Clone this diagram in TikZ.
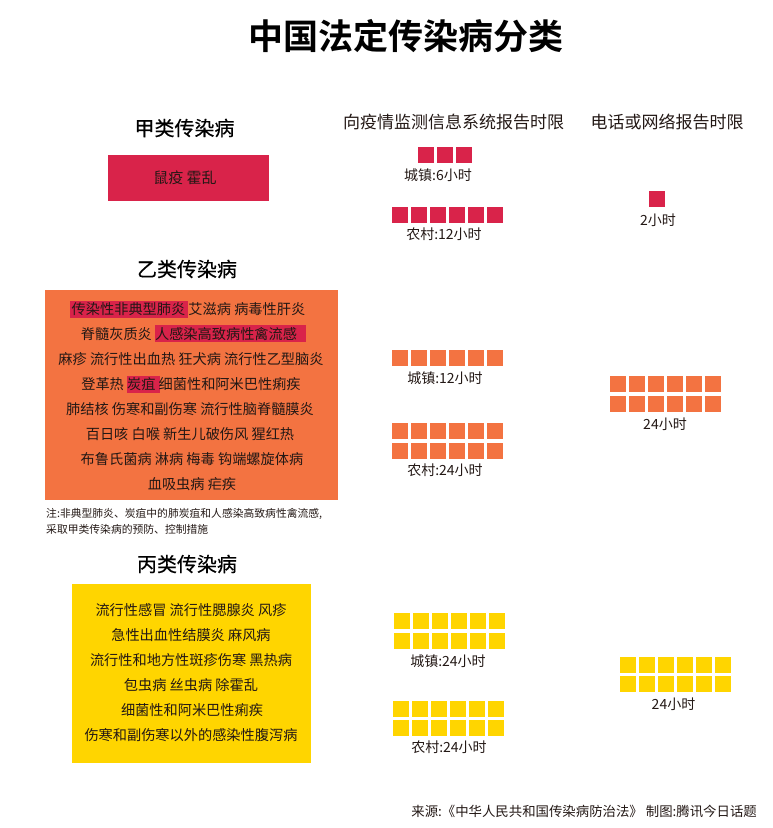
\documentclass[tikz,border=0pt]{standalone}
\usepackage{fontspec}
\setmainfont{Noto Sans CJK SC}[BoldFont=* Bold]
\newfontfamily\medfont{Noto Sans CJK SC}[FakeBold=0.35]
\definecolor{cred}{HTML}{D9234A}
\definecolor{corange}{HTML}{F37341}
\definecolor{cyellow}{HTML}{FFD500}
\definecolor{ctext}{HTML}{231815}
\newcommand{\fsz}[1]{\fontsize{#1}{#1}\selectfont}
\newcommand{\squares}[5]{% colour, x0, y0, columns, name
  \foreach \ci in {1,...,#4}{
    \node[unitsq,fill=#1] (#5-\ci) at ({#2+8+19*(\ci-1)},{#3+8}) {};
  }
}
\tikzset{
  unitsq/.style={minimum size=16pt,inner sep=0pt,outer sep=0pt},
  panel/.style={inner sep=0pt,outer sep=0pt,anchor=north west},
  hl/.style={inner sep=0pt,outer sep=0pt,anchor=north west,fill=cred},
  body/.style={inner sep=0pt,text=ctext,font=\fsz{14.2}},
  lab/.style={inner sep=0pt,text=ctext,font=\fsz{14}},
  head/.style={inner sep=0pt,text=ctext,font=\fsz{17}},
  sect/.style={inner sep=0pt,text=black,font=\medfont\fsz{20}},
}
\begin{document}
\begin{tikzpicture}[x=1pt,y=-1pt]
\useasboundingbox (0,0) rectangle (772,828);
\node[inner sep=0pt,font=\bfseries\fsz{35}] (title) at (405.5,36) {中国法定传染病分类};
\node[sect] (s1) at (184.5,128) {甲类传染病};
\node[sect] (s2) at (187,269) {乙类传染病};
\node[sect] (s3) at (187,564) {丙类传染病};
\node[head] (h1) at (453.5,122) {向疫情监测信息系统报告时限};
\node[head] (h2) at (667,122) {电话或网络报告时限};
% panels
\node[panel,fill=cred,minimum width=161pt,minimum height=46pt] (pa) at (108,155) {};
\node[panel,fill=corange,minimum width=293pt,minimum height=210pt] (pb) at (45,290) {};
\node[panel,fill=cyellow,minimum width=239pt,minimum height=179pt] (pc) at (72,584) {};
\node[body,font=\fsz{15}] (a1) at (185,178) {鼠疫 霍乱};
% highlights
\node[hl,minimum width=118pt,minimum height=17pt] (hl1) at (70,301) {};
\node[hl,minimum width=151pt,minimum height=17pt] (hl2) at (155,325) {};
\node[hl,minimum width=33pt,minimum height=17pt] (hl3) at (127,376) {};
% class B
\node[body] (b1) at (188.5,309) {传染性非典型肺炎 艾滋病 病毒性肝炎};
\node[body] (b2) at (189,334) {脊髓灰质炎 人感染高致病性禽流感};
\node[body] (b3) at (191,359) {麻疹 流行性出血热 狂犬病 流行性乙型脑炎};
\node[body] (b4) at (191,384) {登革热 炭疽 细菌性和阿米巴性痢疾};
\node[body] (b5) at (190,409) {肺结核 伤寒和副伤寒 流行性脑脊髓膜炎};
\node[body] (b6) at (190,434) {百日咳 白喉 新生儿破伤风 猩红热};
\node[body] (b7) at (192,459) {布鲁氏菌病 淋病 梅毒 钩端螺旋体病};
\node[body] (b8) at (192,484) {血吸虫病 疟疾};
\node[inner sep=0pt,anchor=west,text=ctext,font=\fsz{10.8}] (n1) at (46,514) {注:非典型肺炎、炭疽中的肺炭疽和人感染高致病性禽流感,};
\node[inner sep=0pt,anchor=west,text=ctext,font=\fsz{10.8}] (n2) at (46,529) {采取甲类传染病的预防、控制措施};
% class C
\node[body] (c1) at (191,610) {流行性感冒 流行性腮腺炎 风疹};
\node[body] (c2) at (191,635) {急性出血性结膜炎 麻风病};
\node[body] (c3) at (191,660) {流行性和地方性斑疹伤寒 黑热病};
\node[body] (c4) at (191,685) {包虫病 丝虫病 除霍乱};
\node[body] (c5) at (192,710) {细菌性和阿米巴性痢疾};
\node[body] (c6) at (191,735) {伤寒和副伤寒以外的感染性腹泻病};
% red squares
\squares{cred}{418}{147}{3}{ra}
\node[lab] (ra-l) at (438,175) {城镇:6小时};
\squares{cred}{392}{207}{6}{rb}
\node[lab] (rb-l) at (444,234) {农村:12小时};
\squares{cred}{649}{191}{1}{rc}
\node[lab] (rc-l) at (658,220) {2小时};
% orange squares
\squares{corange}{392}{350}{6}{oa}
\node[lab] (oa-l) at (445,378) {城镇:12小时};
\squares{corange}{392}{423}{6}{ob}
\squares{corange}{392}{443}{6}{oc}
\node[lab] (ob-l) at (445,470) {农村:24小时};
\squares{corange}{610}{376}{6}{od}
\squares{corange}{610}{396}{6}{oe}
\node[lab] (od-l) at (665,424) {24小时};
% yellow squares
\squares{cyellow}{394}{613}{6}{ya}
\squares{cyellow}{394}{633}{6}{yb}
\node[lab] (ya-l) at (448,661) {城镇:24小时};
\squares{cyellow}{393}{701}{6}{yc}
\squares{cyellow}{393}{720}{6}{yd}
\node[lab] (yc-l) at (449,747) {农村:24小时};
\squares{cyellow}{620}{657}{6}{ye}
\squares{cyellow}{620}{676}{6}{yf}
\node[lab] (ye-l) at (673.5,704) {24小时};
% source
\node[inner sep=0pt,anchor=east,text=ctext,font=\fsz{13.4}] (src) at (757,811) {来源:《中华人民共和国传染病防治法》 制图:腾讯今日话题};
\end{tikzpicture}
\end{document}
